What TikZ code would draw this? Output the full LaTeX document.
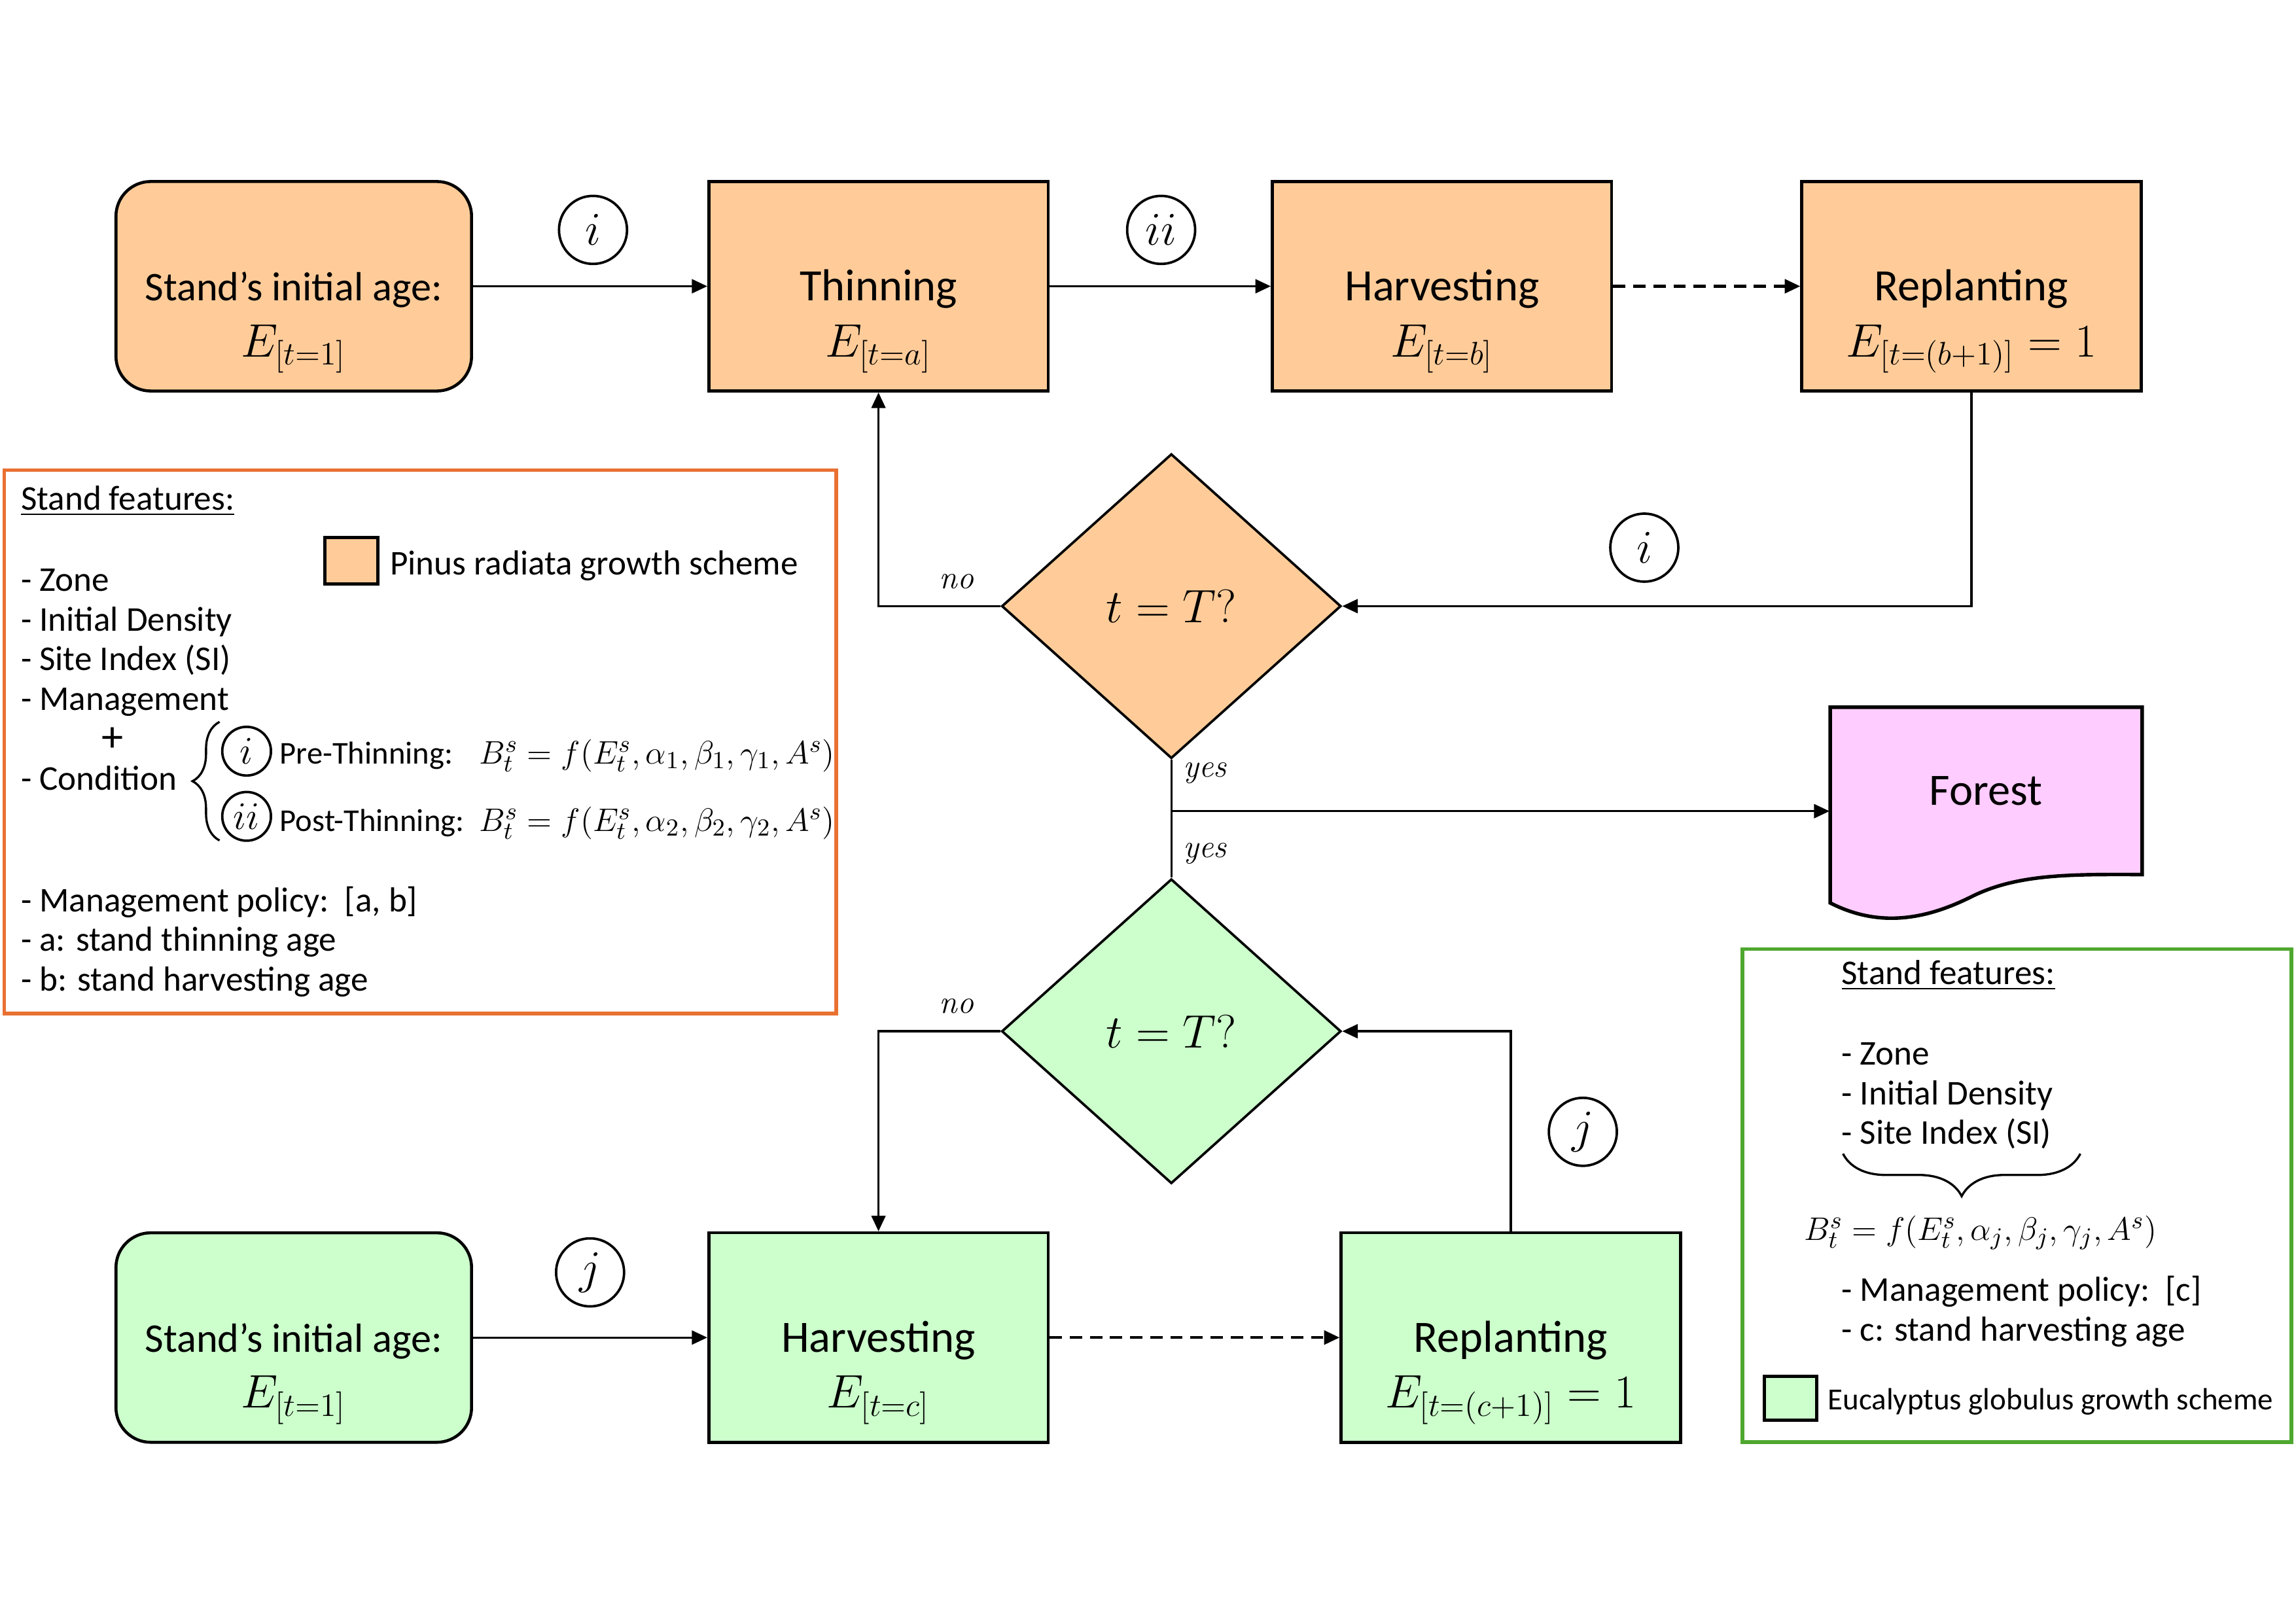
\documentclass[tikz,border=0pt]{standalone}
\usepackage[no-math]{fontspec}
\setmainfont{Carlito}
\usepackage{tikz}
\usetikzlibrary{arrows.meta,positioning,shapes.geometric,decorations.pathreplacing}
\definecolor{peach}{HTML}{FFCC99}
\definecolor{mintgreen}{HTML}{CCFFCC}
\definecolor{lightpink}{HTML}{FFCCFF}
\definecolor{officeorange}{HTML}{E97132}
\definecolor{officegreen}{HTML}{4EA72E}
\tikzset{
  inicio/.style={
    rounded corners=0.45cm,
    draw,
    line width=1.1pt,
    align=center,
    minimum width=4.6cm,
    minimum height=2.71cm,
    text height=0.5cm,
    text depth=0.12cm,
    font=\fontsize{15}{18}\selectfont
  },
  caja/.style={
    draw,
    line width=1.1pt,
    align=center,
    minimum width=4.39cm,
    minimum height=2.71cm,
    text height=0.5cm,
    text depth=0.12cm,
    font=\fontsize{16.5}{20}\selectfont
  },
  formula/.style={
    anchor=base,
    inner sep=0pt,
    font=\fontsize{16.5}{20}\selectfont
  },
  decision/.style={
    diamond,
    draw,
    line width=0.9pt,
    minimum width=4.39cm,
    minimum height=3.94cm,
    inner sep=0pt,
    font=\fontsize{16}{19}\selectfont
  },
  marca/.style={
    circle,
    draw,
    line width=0.9pt,
    minimum size=0.88cm,
    inner sep=0pt,
    font=\fontsize{16}{19}\selectfont
  },
  circulo/.style={
    circle,
    draw,
    line width=0.9pt,
    minimum size=0.63cm,
    inner sep=0pt,
    font=\fontsize{14}{16}\selectfont
  },
  nota/.style={
    inner sep=0pt,
    font=\fontsize{11.5}{13}\selectfont
  },
  leyenda/.style={
    anchor=base west,
    inner sep=0pt,
    font=\fontsize{12.8}{15}\selectfont
  },
  arrow/.style={
    -{Triangle[length=2mm,width=1.8mm]},
    line width=0.8pt
  },
  discont/.style={
    dash pattern=on 1.6mm off 1mm,
    line width=1pt
  },
  linea/.style={
    line width=0.8pt
  }
}

\begin{document}
\begin{tikzpicture}
\useasboundingbox (0,0) rectangle (29.7,21);
% Pinus radiata
\node[inicio,fill=peach] (ini1) at (3.80,17.297) {Stand’s initial age:};
\node[caja,fill=peach,right=3.03cm of ini1] (thin) {Thinning};
\node[caja,fill=peach,right=2.86cm of thin] (harv1) {Harvesting};
\node[caja,fill=peach,right=2.42cm of harv1] (repl1) {Replanting};
\node[formula] (e-ini1) at ([yshift=-0.91cm]ini1.center) {$E_{[t=1]}$};
\node[formula] (e-thin) at ([yshift=-0.91cm]thin.center) {$E_{[t=a]}$};
\node[formula] (e-harv1) at ([yshift=-0.91cm]harv1.center) {$E_{[t=b]}$};
\node[formula] (e-repl1) at ([yshift=-0.91cm]repl1.center) {$E_{[t=(b+1)]}=1$};
\node[decision,fill=peach] (d1) at (15.152,13.159) {$t = T?$};
% Forest
\filldraw[fill=lightpink,line width=1.3pt] (23.675,11.852) -- (27.71,11.852) -- (27.71,9.687)
  .. controls (26.8,9.69) and (26.1,9.7) .. (25.5,9.4)
  .. controls (24.9,9.1) and (24.3,9.0) .. (23.675,9.32) -- cycle;
\node[minimum width=4.035cm,minimum height=2.165cm,font=\fontsize{16.5}{20}\selectfont] (forest) at (25.69,10.77) {Forest};
% Eucalyptus globulus
\node[decision,fill=mintgreen] (d2) at (15.152,7.66) {$t = T?$};
\node[inicio,fill=mintgreen] (ini2) at (3.80,3.698) {Stand’s initial age:};
\node[caja,fill=mintgreen,right=3.03cm of ini2] (harv2) {Harvesting};
\node[caja,fill=mintgreen,right=3.75cm of harv2] (repl2) {Replanting};
\node[formula] (e-ini2) at ([yshift=-0.91cm]ini2.center) {$E_{[t=1]}$};
\node[formula] (e-harv2) at ([yshift=-0.91cm]harv2.center) {$E_{[t=c]}$};
\node[formula] (e-repl2) at ([yshift=-0.91cm]repl2.center) {$E_{[t=(c+1)]}=1$};
% marks
\node[marca] (m1) at (7.671,18.026) {$i$};
\node[marca] (m2) at (15.02,18.026) {$ii$};
\node[marca] (m3) at (21.27,13.916) {$i$};
\node[marca] (m4) at (7.633,4.541) {$j$};
\node[marca] (m5) at (20.475,6.359) {$j$};
\node[nota] (no1) at (12.387,13.481) {$\mathit{no}$};
\node[nota] (yes1) at (15.607,11.0) {$\mathit{yes}$};
\node[nota] (yes2) at (15.607,9.958) {$\mathit{yes}$};
\node[nota] (no2) at (12.387,7.988) {$\mathit{no}$};
% connectors
\coordinate (cruce) at (15.152,10.507);
\draw[arrow] (ini1) -- (thin);
\draw[arrow] (thin) -- (harv1);
\draw[arrow,discont] (harv1) -- (repl1);
\draw[arrow] (repl1.south) |- (d1.east);
\draw[arrow] (d1.west) -| (thin.south);
\draw[linea] (d1.south) -- (cruce) -- (d2.north);
\draw[arrow] (cruce) -- (cruce -| forest.west);
\draw[arrow] (d2.west) -| (harv2.north);
\draw[arrow] (ini2) -- (harv2);
\draw[arrow,discont] (harv2) -- (repl2);
\draw[arrow] (repl2.north) |- (d2.east);
% legend pinus
\node[draw=officeorange,line width=1.3pt,minimum width=10.76cm,minimum height=7.03cm] (ley1) at (5.436,11.406) {};
\node[leyenda] (sf1) at (0.265,14.40) {\underline{Stand features:}};
\node[draw,line width=1.2pt,fill=peach,minimum width=0.68cm,minimum height=0.6cm] (sq1) at (4.546,13.746) {};
\node[leyenda] (pinus) at (5.038,13.563) {Pinus radiata growth scheme};
\foreach \txt [count=\k] in {- Zone,- Initial Density,- Site Index (SI),- Management}
  \node[leyenda] (f1-\k) at (0.265,{13.355-0.515*(\k-1)}) {\txt};
\node[leyenda,anchor=center,font=\fontsize{16}{18}\selectfont] (plus) at (1.458,11.43) {+};
\node[leyenda] (cond) at (0.265,10.78) {- Condition};
\draw[decorate,decoration={brace,amplitude=0.35cm},line width=0.8pt] (2.84,10.128) -- (2.84,11.662);
\node[circulo] (ci) at (3.19,11.283) {$i$};
\node[circulo] (cii) at (3.19,10.44) {$ii$};
\node[leyenda,font=\fontsize{11.7}{14}\selectfont] (pre) at (3.614,11.12) {Pre-Thinning:};
\node[leyenda,font=\fontsize{11.7}{14}\selectfont] (post) at (3.614,10.25) {Post-Thinning:};
\node[leyenda] (fpre) at (6.193,11.12) {$B_t^s = f(E_t^s,\alpha_1,\beta_1,\gamma_1,A^s)$};
\node[leyenda] (fpost) at (6.193,10.25) {$B_t^s = f(E_t^s,\alpha_2,\beta_2,\gamma_2,A^s)$};
\foreach \txt [count=\k] in {{- Management policy:\ \ [a, b]},{- a: stand thinning age},{- b: stand harvesting age}}
  \node[leyenda] (p1-\k) at (0.265,{9.207-0.512*(\k-1)}) {\txt};
% legend eucalyptus
\node[draw=officegreen,line width=1.3pt,minimum width=7.10cm,minimum height=6.38cm] (ley2) at (26.09,5.535) {};
\node[leyenda] (sf2) at (23.815,8.265) {\underline{Stand features:}};
\foreach \txt [count=\k] in {- Zone,- Initial Density,- Site Index (SI)}
  \node[leyenda] (f2-\k) at (23.815,{7.223-0.511*(\k-1)}) {\txt};
\draw[decorate,decoration={brace,amplitude=0.55cm},line width=0.8pt] (26.91,6.076) -- (23.84,6.076);
\node[leyenda] (f2) at (23.33,4.96) {$B_t^s = f(E_t^s,\alpha_j,\beta_j,\gamma_j,A^s)$};
\node[leyenda] (p2-1) at (23.815,4.169) {- Management policy:\ \ [c]};
\node[leyenda] (p2-2) at (23.815,3.657) {- c: stand harvesting age};
\node[draw,line width=1.2pt,fill=mintgreen,minimum width=0.68cm,minimum height=0.57cm] (sq2) at (23.164,2.91) {};
\node[leyenda,font=\fontsize{11.3}{13}\selectfont] (euca) at (23.638,2.765) {Eucalyptus globulus growth scheme};
\end{tikzpicture}
\end{document}
